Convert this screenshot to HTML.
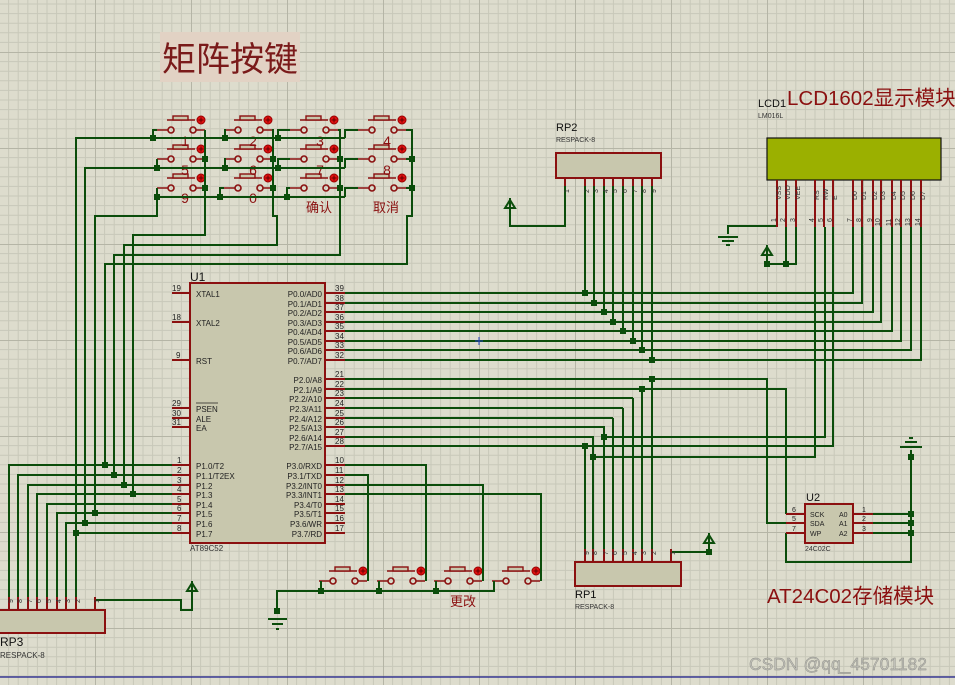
<!DOCTYPE html>
<html><head><meta charset="utf-8"><style>
html,body{margin:0;padding:0;background:#dddccd;}
svg{display:block;}
text{font-family:"Liberation Sans","Noto Sans CJK SC",sans-serif;}
</style></head><body>
<svg width="955" height="685" viewBox="0 0 955 685" xmlns="http://www.w3.org/2000/svg">
<defs>
<pattern id="g" x="95" y="52" width="96" height="96" patternUnits="userSpaceOnUse">
<path d="M9.6 0V96M19.2 0V96M28.8 0V96M38.4 0V96M48 0V96M57.6 0V96M67.2 0V96M76.8 0V96M86.4 0V96M0 9.6H96M0 19.2H96M0 28.8H96M0 38.4H96M0 48H96M0 57.6H96M0 67.2H96M0 76.8H96M0 86.4H96" stroke="#c8c8b9" stroke-width="1"/>
<path d="M0 0V96M0 0H96" stroke="#b5b5a6" stroke-width="2"/>
</pattern>
<g id="btn">
<path d="M-14 0H-3M25 0H34M-4 -10H24" stroke="#8b1010" stroke-width="1.6" fill="none"/>
<circle cx="0" cy="0" r="3" stroke="#8b1010" stroke-width="1.6" fill="none"/>
<circle cx="22" cy="0" r="3" stroke="#8b1010" stroke-width="1.6" fill="none"/>
<rect x="2" y="-14" width="15" height="4" fill="#c8c7ad" stroke="#8b1010" stroke-width="1.4"/>
<circle cx="30" cy="-10" r="4" fill="#e01010" stroke="#900" stroke-width="1"/>
<path d="M27.5 -10H32.5M30 -12.5V-7.5" stroke="#600" stroke-width="1"/>
</g>
<g id="pwr"><path d="M0 0V12M-5 10L0 2L5 10Z" stroke="#0b4d0b" stroke-width="2" fill="none"/></g>
</defs>
<rect width="955" height="685" fill="#dddccd"/>
<rect width="955" height="685" fill="url(#g)"/>

<!-- title -->
<rect x="160" y="32" width="140" height="50" fill="#e2d2c4"/>
<text x="162" y="71" font-size="34" fill="#7a1a1a">矩阵按键</text>

<!-- matrix buttons -->
<use href="#btn" x="171" y="130"/><use href="#btn" x="238" y="130"/><use href="#btn" x="304" y="130"/><use href="#btn" x="372" y="130"/>
<use href="#btn" x="171" y="159"/><use href="#btn" x="238" y="159"/><use href="#btn" x="304" y="159"/><use href="#btn" x="372" y="159"/>
<use href="#btn" x="171" y="188"/><use href="#btn" x="238" y="188"/><use href="#btn" x="304" y="188"/><use href="#btn" x="372" y="188"/>
<g font-size="14" fill="#8b1010" text-anchor="middle">
<text x="185" y="146">1</text><text x="253" y="146">2</text><text x="320" y="146">3</text><text x="387" y="146">4</text>
<text x="185" y="175">5</text><text x="253" y="175">6</text><text x="320" y="175">7</text><text x="387" y="175">8</text>
<text x="185" y="203">9</text><text x="253" y="203">0</text>
<text x="319" y="212" font-size="13">确认</text><text x="386" y="212" font-size="13">取消</text>
</g>

<!-- bottom buttons -->
<use href="#btn" x="333" y="581"/><use href="#btn" x="391" y="581"/><use href="#btn" x="448" y="581"/><use href="#btn" x="506" y="581"/>
<text x="450" y="606" font-size="13" fill="#8b1010">更改</text>

<!-- green wires -->
<g stroke="#0b4d0b" stroke-width="2" fill="none">
<path d="M153 138V130H157M225 138V130H224M278 138V130H290M345 138V130H358M76 533V138H345"/>
<path d="M157 168V159M225 168V159H224M278 168V159H290M345 168V159H358M85 523V168H345"/>
<path d="M157 197V188M220 197V188H224M287 197V188H290M345 197V188H358M157 197H345M157 197V216H95V513"/>
<path d="M205 130V235H133V494M272 130H273V216H277V245H124V485M338 130H340V255H114V475M406 130H412V216H407V264H105V465"/>
<path d="M272 159H273M272 188H273M338 159H340M338 188H340M406 159H412M406 188H412"/>
<path d="M172 465H9V597M172 475H18V597M172 485H28V597M172 494H37V597M172 504H47V597M172 513H57V597M172 523H66V597M172 533H76V597"/>
<path d="M95 597V600H181V610H192V586"/>
<path d="M345 465H426V581M345 475H368V581M345 485H483V581M345 494H541V581"/>
<path d="M277 611V591H494V581M321 591V581M379 591V581M436 591V581"/>
<path d="M345 293H853V227M345 303H862V227M345 312H873V227M345 322H881V227M345 331H892V227M345 341H901V227M345 350H911V227M345 360H921V227"/>
<path d="M585 186V293M594 186V303M604 186V312M613 186V322M623 186V331M633 186V341M642 186V350M652 186V360"/>
<path d="M565 186V226H510V210"/>
<path d="M777 226H728V234M786 227V264M796 227V264H767V251"/>
<path d="M345 379H767V523H786M345 389H786V514M345 398H633M345 408H623M345 418H613"/>
<path d="M345 427H604V437H825V227M345 437H593V457H815V227M345 446H833V227"/>
<path d="M585 549V446M593 549V457M604 549V437M613 549V418M623 549V408M633 549V398M642 549V389M652 549V379"/>
<path d="M671 549V552H709V541"/>
<path d="M873 514H911M873 523H911M873 533H911M911 450V562H786V533"/>
<path d="M268 619H287M272 624H283M276 629H279"/>
<path d="M718 237H738M722 241H734M726 245H730"/>
<path d="M900 447H922M905 442H917M909 438H913"/>
</g>
<use href="#pwr" x="192" y="581"/>
<use href="#pwr" x="510" y="198"/>
<use href="#pwr" x="767" y="245"/>
<use href="#pwr" x="709" y="533"/>
<!-- junctions -->
<g fill="#0b4d0b">
<rect x="150" y="135" width="6" height="6"/><rect x="222" y="135" width="6" height="6"/><rect x="275" y="135" width="6" height="6"/>
<rect x="154" y="165" width="6" height="6"/><rect x="222" y="165" width="6" height="6"/><rect x="275" y="165" width="6" height="6"/>
<rect x="154" y="194" width="6" height="6"/><rect x="217" y="194" width="6" height="6"/><rect x="284" y="194" width="6" height="6"/>
<rect x="202" y="156" width="6" height="6"/><rect x="202" y="185" width="6" height="6"/><rect x="270" y="156" width="6" height="6"/><rect x="270" y="185" width="6" height="6"/>
<rect x="337" y="156" width="6" height="6"/><rect x="337" y="185" width="6" height="6"/><rect x="409" y="156" width="6" height="6"/><rect x="409" y="185" width="6" height="6"/>
<rect x="102" y="462" width="6" height="6"/><rect x="111" y="472" width="6" height="6"/><rect x="121" y="482" width="6" height="6"/><rect x="130" y="491" width="6" height="6"/>
<rect x="92" y="510" width="6" height="6"/><rect x="82" y="520" width="6" height="6"/><rect x="73" y="530" width="6" height="6"/>
<rect x="318" y="588" width="6" height="6"/><rect x="376" y="588" width="6" height="6"/><rect x="433" y="588" width="6" height="6"/><rect x="274" y="608" width="6" height="6"/>
<rect x="582" y="290" width="6" height="6"/><rect x="591" y="300" width="6" height="6"/><rect x="601" y="309" width="6" height="6"/><rect x="610" y="319" width="6" height="6"/>
<rect x="620" y="328" width="6" height="6"/><rect x="630" y="338" width="6" height="6"/><rect x="639" y="347" width="6" height="6"/><rect x="649" y="357" width="6" height="6"/>
<rect x="649" y="376" width="6" height="6"/><rect x="639" y="386" width="6" height="6"/><rect x="601" y="434" width="6" height="6"/><rect x="590" y="454" width="6" height="6"/><rect x="582" y="443" width="6" height="6"/>
<rect x="764" y="261" width="6" height="6"/><rect x="783" y="261" width="6" height="6"/>
<rect x="706" y="549" width="6" height="6"/>
<rect x="908" y="511" width="6" height="6"/><rect x="908" y="520" width="6" height="6"/><rect x="908" y="530" width="6" height="6"/><rect x="908" y="454" width="6" height="6"/>
</g>
<path d="M475 341H483M479 337V345" stroke="#2040c0" stroke-width="1"/>

<!-- U1 -->
<g stroke="#8b1010" stroke-width="2">
<path d="M172 293H190M172 322H190M172 360H190M172 408H190M172 418H190M172 427H190M172 465H190M172 475H190M172 485H190M172 494H190M172 504H190M172 513H190M172 523H190M172 533H190"/>
<path d="M325 293H345M325 303H345M325 312H345M325 322H345M325 331H345M325 341H345M325 350H345M325 360H345M325 379H345M325 389H345M325 398H345M325 408H345M325 418H345M325 427H345M325 437H345M325 446H345M325 465H345M325 475H345M325 485H345M325 494H345M325 504H345M325 513H345M325 523H345M325 533H345"/>
</g>
<rect x="190" y="283" width="135" height="260" fill="#c8c7ad" stroke="#8b1010" stroke-width="2"/>
<text x="190" y="281" font-size="12" fill="#111">U1</text>
<text x="190" y="551" font-size="8" fill="#333">AT89C52</text>
<g font-size="8" fill="#222">
<text x="196" y="297">XTAL1</text><text x="196" y="326">XTAL2</text><text x="196" y="364">RST</text>
<text x="196" y="412">PSEN</text><text x="196" y="422">ALE</text><text x="196" y="431">EA</text>
<text x="196" y="469">P1.0/T2</text><text x="196" y="479">P1.1/T2EX</text><text x="196" y="489">P1.2</text><text x="196" y="498">P1.3</text>
<text x="196" y="508">P1.4</text><text x="196" y="517">P1.5</text><text x="196" y="527">P1.6</text><text x="196" y="537">P1.7</text>
</g>
<path d="M196 403H218" stroke="#222" stroke-width="0.8"/>
<g font-size="8" fill="#222" text-anchor="end">
<text x="322" y="297">P0.0/AD0</text><text x="322" y="307">P0.1/AD1</text><text x="322" y="316">P0.2/AD2</text><text x="322" y="326">P0.3/AD3</text>
<text x="322" y="335">P0.4/AD4</text><text x="322" y="345">P0.5/AD5</text><text x="322" y="354">P0.6/AD6</text><text x="322" y="364">P0.7/AD7</text>
<text x="322" y="383">P2.0/A8</text><text x="322" y="393">P2.1/A9</text><text x="322" y="402">P2.2/A10</text><text x="322" y="412">P2.3/A11</text>
<text x="322" y="422">P2.4/A12</text><text x="322" y="431">P2.5/A13</text><text x="322" y="441">P2.6/A14</text><text x="322" y="450">P2.7/A15</text>
<text x="322" y="469">P3.0/RXD</text><text x="322" y="479">P3.1/TXD</text><text x="322" y="489">P3.2/INT0</text><text x="322" y="498">P3.3/INT1</text>
<text x="322" y="508">P3.4/T0</text><text x="322" y="517">P3.5/T1</text><text x="322" y="527">P3.6/WR</text><text x="322" y="537">P3.7/RD</text>
</g>
<g font-size="8" fill="#222">
<text x="172" y="291">19</text><text x="172" y="320">18</text><text x="176" y="358">9</text><text x="172" y="406">29</text><text x="172" y="416">30</text><text x="172" y="425">31</text>
<text x="177" y="463">1</text><text x="177" y="473">2</text><text x="177" y="483">3</text><text x="177" y="492">4</text><text x="177" y="502">5</text><text x="177" y="511">6</text><text x="177" y="521">7</text><text x="177" y="531">8</text>
<text x="335" y="291">39</text><text x="335" y="301">38</text><text x="335" y="310">37</text><text x="335" y="320">36</text><text x="335" y="329">35</text><text x="335" y="339">34</text><text x="335" y="348">33</text><text x="335" y="358">32</text>
<text x="335" y="377">21</text><text x="335" y="387">22</text><text x="335" y="396">23</text><text x="335" y="406">24</text><text x="335" y="416">25</text><text x="335" y="425">26</text><text x="335" y="435">27</text><text x="335" y="444">28</text>
<text x="335" y="463">10</text><text x="335" y="473">11</text><text x="335" y="483">12</text><text x="335" y="492">13</text><text x="335" y="502">14</text><text x="335" y="511">15</text><text x="335" y="521">16</text><text x="335" y="531">17</text>
</g>

<!-- RP3 -->
<g stroke="#8b1010" stroke-width="2"><path d="M9 597V610M18 597V610M28 597V610M37 597V610M47 597V610M57 597V610M66 597V610M76 597V610M95 597V610"/></g>
<rect x="-5" y="610" width="110" height="23" fill="#c8c7ad" stroke="#8b1010" stroke-width="2"/>
<text x="0" y="646" font-size="12" fill="#111">RP3</text>
<text x="0" y="658" font-size="8" fill="#333">RESPACK-8</text>

<!-- RP2 -->
<g stroke="#8b1010" stroke-width="2"><path d="M565 178V186M585 178V186M594 178V186M604 178V186M613 178V186M623 178V186M633 178V186M642 178V186M652 178V186"/></g>
<rect x="556" y="153" width="105" height="25" fill="#c8c7ad" stroke="#8b1010" stroke-width="2"/>
<text x="556" y="131" font-size="11" fill="#111">RP2</text>
<text x="556" y="142" font-size="7" fill="#333">RESPACK-8</text>

<!-- RP1 -->
<g stroke="#8b1010" stroke-width="2"><path d="M585 549V562M593 549V562M604 549V562M613 549V562M623 549V562M633 549V562M642 549V562M652 549V562M671 549V562"/></g>
<rect x="575" y="562" width="106" height="24" fill="#c8c7ad" stroke="#8b1010" stroke-width="2"/>
<text x="575" y="598" font-size="11" fill="#111">RP1</text>
<text x="575" y="609" font-size="7" fill="#333">RESPACK-8</text>

<!-- LCD -->
<rect x="767" y="138" width="174" height="42" fill="#9bb000" stroke="#111" stroke-width="1.2"/>
<g stroke="#8b1010" stroke-width="2"><path d="M777 180V227M786 180V227M796 180V227M815 180V227M824 180V227M833 180V227M853 180V227M862 180V227M873 180V227M881 180V227M892 180V227M901 180V227M911 180V227M921 180V227"/></g>
<text x="758" y="107" font-size="11" fill="#111">LCD1</text>
<text x="758" y="118" font-size="7" fill="#333">LM016L</text>
<text x="787" y="105" font-size="20.5" fill="#8b1010">LCD1602显示模块</text>
<g font-size="7" fill="#333">
<text transform="translate(781,200) rotate(-90)">VSS</text><text transform="translate(790,200) rotate(-90)">VDD</text><text transform="translate(800,200) rotate(-90)">VEE</text>
<text transform="translate(819,200) rotate(-90)">RS</text><text transform="translate(828,200) rotate(-90)">RW</text><text transform="translate(837,200) rotate(-90)">E</text>
<text transform="translate(857,200) rotate(-90)">D0</text><text transform="translate(866,200) rotate(-90)">D1</text><text transform="translate(877,200) rotate(-90)">D2</text><text transform="translate(885,200) rotate(-90)">D3</text>
<text transform="translate(896,200) rotate(-90)">D4</text><text transform="translate(905,200) rotate(-90)">D5</text><text transform="translate(915,200) rotate(-90)">D6</text><text transform="translate(925,200) rotate(-90)">D7</text>
<text transform="translate(776,222) rotate(-90)">1</text><text transform="translate(785,222) rotate(-90)">2</text><text transform="translate(795,222) rotate(-90)">3</text>
<text transform="translate(814,222) rotate(-90)">4</text><text transform="translate(823,222) rotate(-90)">5</text><text transform="translate(832,222) rotate(-90)">6</text>
<text transform="translate(852,222) rotate(-90)">7</text><text transform="translate(861,222) rotate(-90)">8</text><text transform="translate(872,222) rotate(-90)">9</text><text transform="translate(880,226) rotate(-90)">10</text>
<text transform="translate(891,226) rotate(-90)">11</text><text transform="translate(900,226) rotate(-90)">12</text><text transform="translate(910,226) rotate(-90)">13</text><text transform="translate(920,226) rotate(-90)">14</text>
</g>
<g font-size="7" fill="#333">
<text transform="translate(569,193) rotate(-90)">1</text><text transform="translate(589,193) rotate(-90)">2</text><text transform="translate(598,193) rotate(-90)">3</text><text transform="translate(608,193) rotate(-90)">4</text>
<text transform="translate(617,193) rotate(-90)">5</text><text transform="translate(627,193) rotate(-90)">6</text><text transform="translate(637,193) rotate(-90)">7</text><text transform="translate(646,193) rotate(-90)">8</text><text transform="translate(656,193) rotate(-90)">9</text>
<text transform="translate(589,555) rotate(-90)">9</text><text transform="translate(597,555) rotate(-90)">8</text><text transform="translate(608,555) rotate(-90)">7</text><text transform="translate(617,555) rotate(-90)">6</text>
<text transform="translate(627,555) rotate(-90)">5</text><text transform="translate(637,555) rotate(-90)">4</text><text transform="translate(646,555) rotate(-90)">3</text><text transform="translate(656,555) rotate(-90)">2</text><text transform="translate(675,555) rotate(-90)">1</text>
<text transform="translate(13,603) rotate(-90)">9</text><text transform="translate(22,603) rotate(-90)">8</text><text transform="translate(32,603) rotate(-90)">7</text><text transform="translate(41,603) rotate(-90)">6</text>
<text transform="translate(51,603) rotate(-90)">5</text><text transform="translate(61,603) rotate(-90)">4</text><text transform="translate(70,603) rotate(-90)">3</text><text transform="translate(80,603) rotate(-90)">2</text><text transform="translate(99,603) rotate(-90)">1</text>
</g>

<!-- U2 -->
<g stroke="#8b1010" stroke-width="2"><path d="M786 514H805M786 523H805M786 533H805M853 514H873M853 523H873M853 533H873"/></g>
<rect x="805" y="504" width="48" height="39" fill="#c8c7ad" stroke="#8b1010" stroke-width="2"/>
<text x="806" y="501" font-size="11" fill="#111">U2</text>
<text x="805" y="551" font-size="7" fill="#333">24C02C</text>
<g font-size="7" fill="#222">
<text x="810" y="517">SCK</text><text x="810" y="526">SDA</text><text x="810" y="536">WP</text>
<text x="839" y="517">A0</text><text x="839" y="526">A1</text><text x="839" y="536">A2</text>
<text x="792" y="512">6</text><text x="792" y="521">5</text><text x="792" y="531">7</text>
<text x="862" y="512">1</text><text x="862" y="521">2</text><text x="862" y="531">3</text>
</g>
<text x="767" y="603" font-size="20.5" fill="#8b1010">AT24C02存储模块</text>

<path d="M0 677H955" stroke="#1a1a8a" stroke-width="1.2"/>
<text x="749" y="670" font-size="17.5" fill="#c0c0b8" stroke="#8a8a84" stroke-width="0.4">CSDN @qq_45701182</text>
</svg>
</body></html>
